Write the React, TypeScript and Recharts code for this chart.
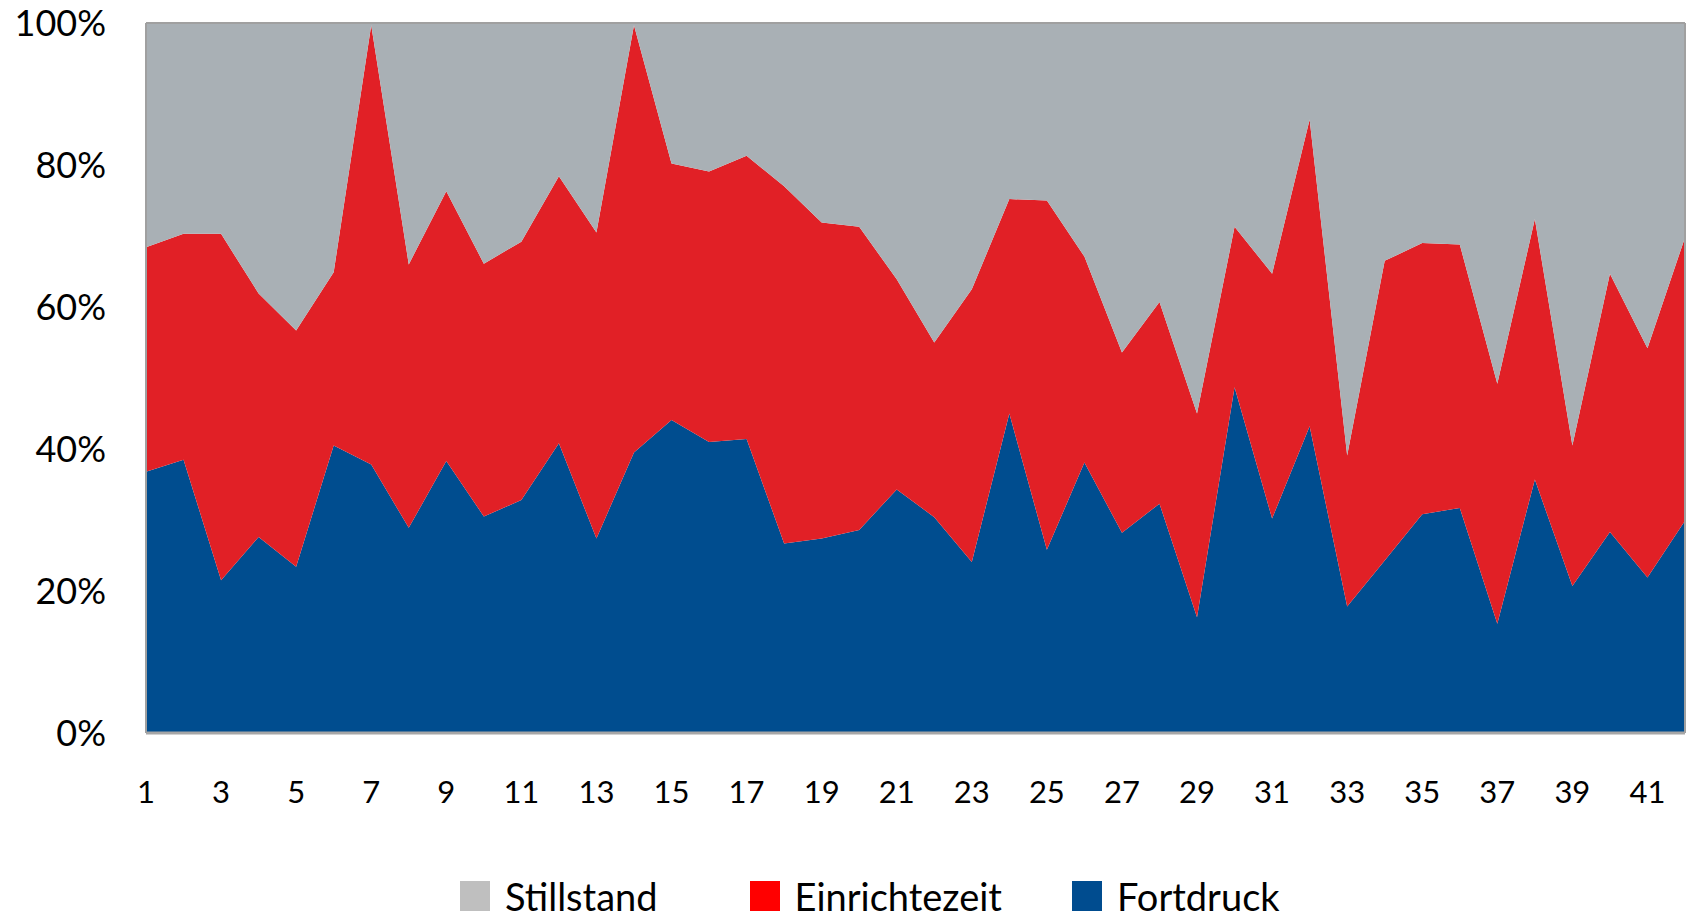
import { AreaChart, Area, XAxis, YAxis, ReferenceLine } from "recharts";

const days = [
  "1", "2", "3", "4", "5", "6", "7", "8", "9", "10", "11", "12", "13", "14",
  "15", "16", "17", "18", "19", "20", "21", "22", "23", "24", "25", "26", "27", "28",
  "29", "30", "31", "32", "33", "34", "35", "36", "37", "38", "39", "40", "41", "42",
];

// Anteile in Prozent, je Tag
const fortdruck = [
  36.8, 38.5, 21.5, 27.6, 23.4, 40.5, 37.8, 28.9, 38.3, 30.5, 32.8, 40.8, 27.4, 39.5,
  44.1, 41.0, 41.4, 26.7, 27.4, 28.6, 34.3, 30.4, 24.1, 45.0, 25.8, 38.1, 28.2, 32.3,
  16.3, 48.7, 30.2, 43.2, 17.8, 24.3, 30.8, 31.7, 15.4, 35.7, 20.7, 28.3, 21.9, 29.9,
];
const einrichtezeit = [
  31.6, 31.8, 48.8, 34.3, 33.3, 24.4, 61.9, 37.1, 38.0, 35.6, 36.4, 37.6, 43.1, 60.2,
  36.1, 38.1, 39.9, 50.3, 44.5, 42.7, 29.6, 24.6, 38.4, 30.2, 49.2, 29.0, 25.4, 28.4,
  28.7, 22.6, 34.5, 43.2, 21.3, 42.2, 38.2, 37.1, 33.8, 36.7, 19.8, 36.4, 32.3, 39.9,
];
const stillstand = [
  31.6, 29.7, 29.7, 38.1, 43.3, 35.1, 0.3, 34.0, 23.7, 33.9, 30.8, 21.6, 29.5, 0.3,
  19.8, 20.9, 18.7, 23.0, 28.1, 28.7, 36.1, 45.0, 37.5, 24.8, 25.0, 32.9, 46.4, 39.3,
  55.0, 28.7, 35.3, 13.6, 60.9, 33.5, 31.0, 31.2, 50.8, 27.6, 59.5, 35.3, 45.8, 30.2,
];

const yTicks = [0, 0.2, 0.4, 0.6, 0.8, 1];

const legendItems = [
  { name: "Stillstand", color: "#BFBFBF" },
  { name: "Einrichtezeit", color: "#FF0000" },
  { name: "Fortdruck", color: "#004C8F" },
];
const legendGaps = [92, 70, 0];

const data = days.map((day, i) => ({
  day,
  Fortdruck: fortdruck[i],
  Einrichtezeit: einrichtezeit[i],
  Stillstand: stillstand[i],
}));

const font = "Lato, 'Open Sans', sans-serif";

export default function App() {
  return (
    <div style={{ position: "relative", width: 1686, height: 919, fontFamily: font }}>
      <style>{`body { margin: 0; }`}</style>
      <AreaChart
        width={1686}
        height={919}
        data={data}
        stackOffset="expand"
        margin={{ top: 23, right: 1, bottom: 126, left: 0 }}
      >
        <XAxis
          dataKey="day"
          interval={1}
          height={60}
          tickLine={false}
          tickSize={0}
          tickMargin={48}
          axisLine={{ stroke: "#A6A6A6", strokeWidth: 3 }}
          tick={{ fill: "#000", fontSize: 31, fontFamily: font }}
        />
        <YAxis
          width={146}
          ticks={yTicks}
          domain={[0, 1]}
          tickFormatter={(v: number) => `${Math.round(v * 100)}%`}
          tickLine={false}
          tickSize={0}
          tickMargin={40}
          axisLine={{ stroke: "#A0A0A0", strokeWidth: 2 }}
          tick={{ fill: "#000", fontSize: 36, fontFamily: font }}
        />
        <Area
          type="linear"
          dataKey="Fortdruck"
          stackId="1"
          stroke="none"
          fill="#004D8F"
          fillOpacity={1}
          isAnimationActive={false}
        />
        <Area
          type="linear"
          dataKey="Einrichtezeit"
          stackId="1"
          stroke="none"
          fill="#E12026"
          fillOpacity={1}
          isAnimationActive={false}
        />
        <Area
          type="linear"
          dataKey="Stillstand"
          stackId="1"
          stroke="none"
          fill="#A9B0B5"
          fillOpacity={1}
          isAnimationActive={false}
        />
        <ReferenceLine y={1} stroke="#A0A0A0" strokeWidth={2} />
        <ReferenceLine x="42" stroke="#A0A0A0" strokeWidth={2} />
      </AreaChart>
      <div
        style={{
          position: "absolute",
          top: 877,
          left: 460,
          display: "flex",
          alignItems: "center",
          fontSize: 38,
          lineHeight: 1,
          color: "#000",
          whiteSpace: "nowrap",
        }}
      >
        {legendItems.map((item, i) => (
          <div
            key={item.name}
            style={{ display: "flex", alignItems: "center", marginRight: legendGaps[i] }}
          >
            <span
              style={{
                display: "inline-block",
                width: 30,
                height: 30,
                background: item.color,
                marginRight: 15,
              }}
            />
            <span>{item.name}</span>
          </div>
        ))}
      </div>
    </div>
  );
}
